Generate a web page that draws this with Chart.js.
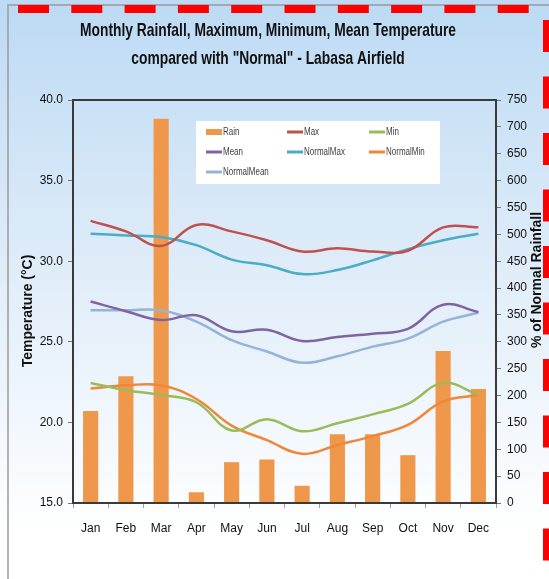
<!DOCTYPE html>
<html>
<head>
<meta charset="utf-8">
<script src="https://cdn.jsdelivr.net/npm/chart.js@4.4.1/dist/chart.umd.min.js"></script>
<style>
  html, body { margin: 0; padding: 0; background: #fff; }
  #wrap { width: 549px; height: 579px; }
</style>
</head>
<body>
<div id="wrap"><canvas id="rain-chart" width="549" height="579"></canvas></div>
<script>
// Data
const months = ['Jan', 'Feb', 'Mar', 'Apr', 'May', 'Jun', 'Jul', 'Aug', 'Sep', 'Oct', 'Nov', 'Dec'];
const rainPct = [171, 236, 715, 20, 76, 81, 32, 128, 128, 89, 283, 212];
const maxTemp = [32.5, 31.85, 30.95, 32.25, 31.85, 31.3, 30.6, 30.8, 30.6, 30.65, 32.1, 32.1];
const minTemp = [22.45, 22.0, 21.7, 21.25, 19.5, 20.2, 19.45, 19.95, 20.5, 21.15, 22.45, 21.7];
const meanTemp = [27.5, 26.9, 26.35, 26.65, 25.65, 25.75, 25.05, 25.3, 25.5, 25.8, 27.3, 26.85];
const normalMax = [31.7, 31.6, 31.5, 31.0, 30.1, 29.75, 29.2, 29.45, 30.05, 30.75, 31.3, 31.7];
const normalMin = [22.1, 22.3, 22.3, 21.45, 19.8, 18.9, 18.05, 18.6, 19.15, 19.85, 21.3, 21.7];
const normalMean = [26.95, 26.95, 26.95, 26.25, 25.1, 24.4, 23.7, 24.1, 24.7, 25.2, 26.25, 26.8];
const tempTicks = { min: 15, max: 40, step: 5 };
const rainTicks = { min: 0, max: 750, step: 50 };

const sans = '"Liberation Sans", Arial, sans-serif';

function lineSet(label, data, color) {
    return {
        type: 'line',
        label: label,
        data: data,
        yAxisID: 'y',
        borderColor: color,
        backgroundColor: color,
        borderWidth: 2.5,
        pointRadius: 0,
        tension: 0.4,
        order: 1
    };
}

// draw text squeezed horizontally (the original uses a condensed face)
function squeezed(ctx, text, x, y, sx) {
    ctx.save();
    ctx.translate(x, y);
    ctx.scale(sx, 1);
    ctx.fillText(text, 0, 0);
    ctx.restore();
}

// Background, frame, title, axis titles and legend
const decor = {
    id: 'decor',
    beforeDraw(chart) {
        const ctx = chart.ctx;
        const g = ctx.createLinearGradient(0, 0, 0, chart.height);
        g.addColorStop(0, '#bcdaf4');
        g.addColorStop(0.4, '#dbeaf8');
        g.addColorStop(0.75, '#f3f8fd');
        g.addColorStop(0.92, '#ffffff');
        ctx.save();
        ctx.fillStyle = g;
        ctx.fillRect(0, 0, chart.width, chart.height);
        ctx.restore();
    },
    afterDraw(chart) {
        const ctx = chart.ctx;
        const a = chart.chartArea;
        ctx.save();

        // plot box
        ctx.strokeStyle = '#3a3a3a';
        ctx.lineWidth = 2;
        ctx.strokeRect(a.left, a.top, a.right - a.left, a.bottom - a.top);

        // outer frame lines
        ctx.strokeStyle = '#9a9a9a';
        ctx.lineWidth = 1.5;
        ctx.beginPath();
        ctx.moveTo(8, chart.height);
        ctx.lineTo(8, 5);
        ctx.lineTo(chart.width, 5);
        ctx.stroke();

        // red dashes
        ctx.fillStyle = '#ff0000';
        for (let x = 18; x < chart.width; x += 53.3) ctx.fillRect(x, 5, 31, 8);
        for (let y = 20; y < chart.height; y += 56.5) ctx.fillRect(543, y, 6, 32);

        // title
        ctx.fillStyle = '#111';
        ctx.textAlign = 'center';
        ctx.textBaseline = 'middle';
        ctx.font = 'bold 19px ' + sans;
        const t1 = 'Monthly Rainfall, Maximum, Minimum, Mean Temperature';
        const sx = 376 / ctx.measureText(t1).width;
        squeezed(ctx, t1, 268, 31, sx);
        squeezed(ctx, 'compared with "Normal" - Labasa Airfield', 268, 59, sx);

        // axis titles
        ctx.font = 'bold 14px ' + sans;
        ctx.save();
        ctx.translate(28, 311);
        ctx.rotate(-Math.PI / 2);
        ctx.fillText('Temperature (°C)', 0, 0);
        ctx.restore();
        ctx.save();
        ctx.translate(537, 280);
        ctx.rotate(-Math.PI / 2);
        ctx.fillText('% of Normal Rainfall', 0, 0);
        ctx.restore();

        // legend
        ctx.fillStyle = '#ffffff';
        ctx.fillRect(196, 121, 244, 63);
        const cols = [206, 287, 369];
        const rows = [132, 152, 172];
        ctx.font = '10px ' + sans;
        ctx.textAlign = 'left';
        chart.data.datasets.forEach((ds, i) => {
            const x = cols[i % 3];
            const y = rows[Math.floor(i / 3)];
            ctx.fillStyle = ds.backgroundColor;
            if (ds.type === 'bar') ctx.fillRect(x, y - 3, 16, 6);
            else ctx.fillRect(x, y - 1.5, 16, 3);
            ctx.fillStyle = '#404040';
            squeezed(ctx, ds.label, x + 17, y, 0.8);
        });
        ctx.restore();
    }
};

const ctx = document.getElementById('rain-chart').getContext('2d');
const chart = new Chart(ctx, {
    type: 'bar',
    data: {
        labels: months,
        datasets: [
            {
                type: 'bar',
                label: 'Rain',
                data: rainPct,
                yAxisID: 'y2',
                backgroundColor: '#ef984c',
                borderWidth: 0,
                barPercentage: 1,
                categoryPercentage: 0.43,
                order: 2
            },
            lineSet('Max', maxTemp, '#c0504d'),
            lineSet('Min', minTemp, '#9bbb59'),
            lineSet('Mean', meanTemp, '#8064a2'),
            lineSet('NormalMax', normalMax, '#4bacc6'),
            lineSet('NormalMin', normalMin, '#f08638'),
            lineSet('NormalMean', normalMean, '#95b3d7')
        ]
    },
    options: {
        responsive: false,
        animation: false,
        layout: { padding: { top: 100, left: 0, right: 0, bottom: 0 } },
        plugins: { legend: { display: false }, title: { display: false }, tooltip: { enabled: false } },
        scales: {
            x: {
                grid: { offset: true, drawOnChartArea: false, drawTicks: true, tickLength: 5, color: '#a0a0a0' },
                border: { display: true, color: '#3a3a3a', width: 2 },
                ticks: { color: '#111', padding: 13, font: { family: sans, size: 12 } },
                afterFit: s => { s.height = 76; }
            },
            y: {
                position: 'left',
                min: tempTicks.min,
                max: tempTicks.max,
                grid: { drawOnChartArea: false, tickLength: 5, color: '#777' },
                border: { display: true, color: '#3a3a3a', width: 2 },
                ticks: {
                    stepSize: tempTicks.step,
                    color: '#111',
                    padding: 5,
                    font: { family: sans, size: 12 },
                    callback: v => v.toFixed(1)
                },
                afterFit: s => { s.width = 73; }
            },
            y2: {
                position: 'right',
                min: rainTicks.min,
                max: rainTicks.max,
                grid: { drawOnChartArea: false, tickLength: 5, color: '#777' },
                border: { display: true, color: '#3a3a3a', width: 2 },
                ticks: {
                    stepSize: rainTicks.step,
                    color: '#111',
                    padding: 6,
                    font: { family: sans, size: 12 }
                },
                afterFit: s => { s.width = 53; }
            }
        }
    },
    plugins: [decor]
});
</script>
</body>
</html>
